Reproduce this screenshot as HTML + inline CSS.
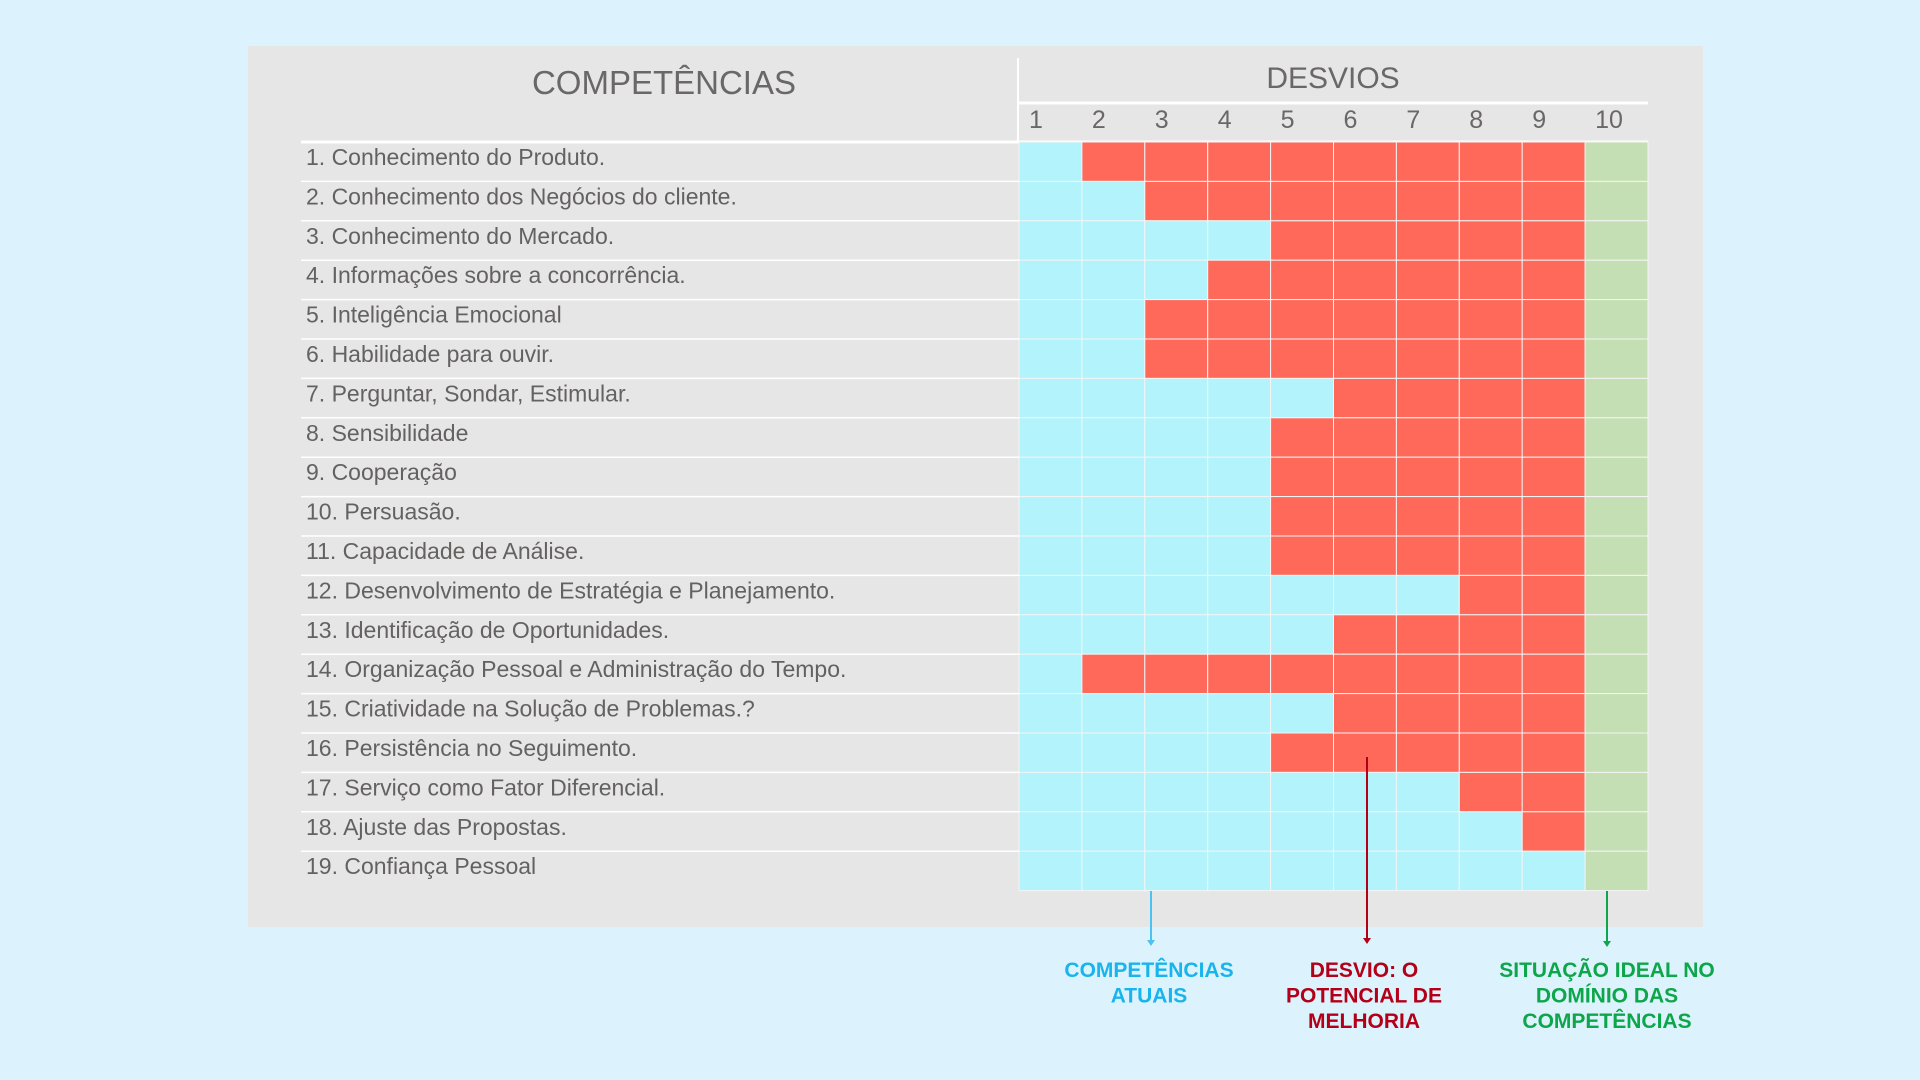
<!DOCTYPE html>
<html><head><meta charset="utf-8">
<style>
body{margin:0;width:1920px;height:1080px;background:#dcf3fd;position:relative;overflow:hidden;font-family:"Liberation Sans",sans-serif;}
#panel{position:absolute;left:248px;top:46px;width:1455px;height:881px;background:#e6e6e6;}
</style></head><body>
<div id="panel"></div>
<svg id="chart" width="1920" height="1080" style="position:absolute;left:0;top:0"></svg>
<script>
const competencies=["1. Conhecimento do Produto.","2. Conhecimento dos Negócios do cliente.","3. Conhecimento do Mercado.","4. Informações sobre a concorrência.","5. Inteligência Emocional","6. Habilidade para ouvir.","7. Perguntar, Sondar, Estimular.","8. Sensibilidade","9. Cooperação","10. Persuasão.","11. Capacidade de Análise.","12. Desenvolvimento de Estratégia e Planejamento.","13. Identificação de Oportunidades.","14. Organização Pessoal e Administração do Tempo.","15. Criatividade na Solução de Problemas.?","16. Persistência no Seguimento.","17. Serviço como Fator Diferencial.","18. Ajuste das Propostas.","19. Confiança Pessoal"];
const currentLevel=[1,2,4,3,2,2,5,4,4,4,4,7,5,1,5,4,7,8,9];
const scaleLabels=["1","2","3","4","5","6","7","8","9","10"];
const idealLevel=10;

const NS="http://www.w3.org/2000/svg";
const svg=document.getElementById('chart');
const gx0=1019,colW=62.9,gy0=142,rowH=39.4;
const xPos=i=>gx0+i*colW;
const yPos=r=>gy0+r*rowH;
function mk(tag,attrs,parent){const e=document.createElementNS(NS,tag);for(const k in attrs)e.setAttribute(k,attrs[k]);(parent||svg).appendChild(e);return e;}

let t=mk('text',{x:664,y:94,'text-anchor':'middle','font-size':33,fill:'#6a6767','font-family':'Liberation Sans, sans-serif'});
t.textContent="COMPETÊNCIAS";


t=mk('text',{x:1333,y:88,'text-anchor':'middle','font-size':30,fill:'#6a6767','font-family':'Liberation Sans, sans-serif'});
t.textContent="DESVIOS";


let l=mk('line',{x1:1018,y1:58,x2:1018,y2:142,stroke:'#fff','stroke-width':2});


l=mk('line',{x1:1019,y1:103,x2:1648,y2:103,stroke:'#fff','stroke-width':3});


scaleLabels.forEach((s,i)=>{const e=mk('text',{x:xPos(i)+10,y:128,'font-size':25,fill:'#6a6767','font-family':'Liberation Sans, sans-serif'});e.textContent=s;

});
l=mk('line',{x1:301,y1:142,x2:1648,y2:142,stroke:'#fff','stroke-width':3});



competencies.forEach((name,r)=>{
  const tx=mk('text',{x:306,y:yPos(r)+23,'font-size':23,fill:'#646161','font-family':'Liberation Sans, sans-serif'});
  tx.textContent=name;
  
  
  for(let c=0;c<10;c++){
    let fill=c<currentLevel[r]?'#b3f3fc':(c<idealLevel-1?'#ff695a':'#c5dfb4');
    const rc=mk('rect',{x:xPos(c),y:yPos(r),width:colW,height:rowH,fill:fill,stroke:'#f4f4f4','stroke-width':1});
    
    
  }
  if(r>0){const ln=mk('line',{x1:301,y1:yPos(r),x2:1019,y2:yPos(r),stroke:'#fff','stroke-width':1.5});
  
  }
});

function arrow(x,y1,y2,col,name){
  const g=mk('g',{});
  
  
  mk('line',{x1:x,y1:y1,x2:x,y2:y2-5,stroke:col,'stroke-width':2},g);
  mk('polygon',{points:`${x-4},${y2-6} ${x+4},${y2-6} ${x},${y2}`,fill:col},g);
}
arrow(1151,891,946,'#4cc3ee','arrow-current');
arrow(1367,757,944,'#b30018','arrow-deviation');
arrow(1607,891,947,'#0ea64a','arrow-ideal');

function label(cx,lines,col,name){
  const e=mk('text',{'text-anchor':'middle','font-size':21,'font-weight':'bold',fill:col,'font-family':'Liberation Sans, sans-serif'});
  
  
  lines.forEach((s,i)=>{const ts=mk('tspan',{x:cx,y:977+i*25.5},e);ts.textContent=s;});
}
label(1149,["COMPETÊNCIAS","ATUAIS"],'#1ab4ec','label-current');
label(1364,["DESVIO: O","POTENCIAL DE","MELHORIA"],'#b30018','label-deviation');
label(1607,["SITUAÇÃO IDEAL NO","DOMÍNIO DAS","COMPETÊNCIAS"],'#0ea64a','label-ideal');
</script>
</body></html>
